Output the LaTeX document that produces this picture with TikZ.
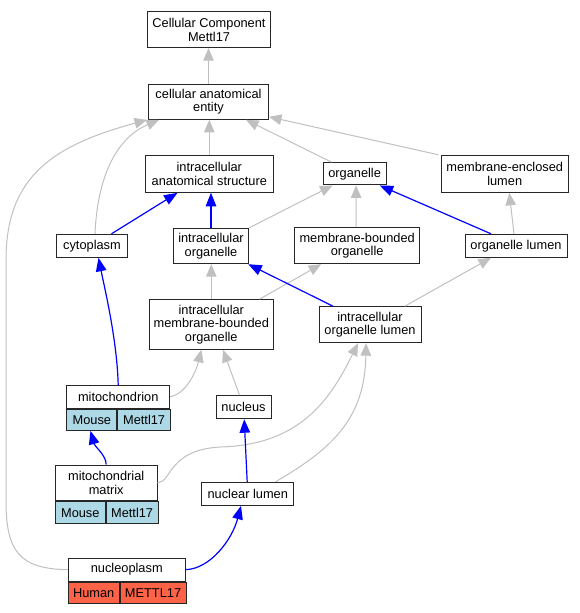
\documentclass[tikz,border=0pt]{standalone}
\usepackage{fontspec}
\setmainfont{Liberation Sans}
\usetikzlibrary{arrows.meta}
\definecolor{isagray}{HTML}{C0C0C0}
\definecolor{partblue}{HTML}{0000FF}
\definecolor{mousecol}{HTML}{ADD8E6}
\definecolor{humancol}{HTML}{FF6347}
\tikzset{
  box/.style={draw=black!85, line width=1pt, fill=white, rectangle, inner sep=0pt, align=center,
    font=\fontsize{12.8}{13.6}\selectfont},
  cellbox/.style={box, anchor=north west},
  isa/.style={draw=isagray, line width=1pt, -{Triangle[length=12.5pt,width=10.5pt]}},
  partof/.style={draw=partblue, line width=1.2pt, -{Triangle[length=13.5pt,width=10.5pt]}},
}
\begin{document}
\begin{tikzpicture}[x=1pt,y=-1pt]
\useasboundingbox (0,0) rectangle (580,613);
% nodes
\node[box, minimum width=123pt, minimum height=36pt] (cc) at (209,29.7) {Cellular Component\\Mettl17};
\node[box, minimum width=120pt, minimum height=35.3pt] (cae) at (208.5,101.7) {cellular anatomical\\entity};
\node[box, minimum width=128.6pt, minimum height=36.6pt] (ias) at (209.3,174) {intracellular\\anatomical structure};
\node[box, minimum width=63.2pt, minimum height=22.3pt] (org) at (354.6,173.8) {organelle};
\node[box, minimum width=127.4pt, minimum height=37pt] (mel) at (504.7,173.8) {membrane-enclosed\\lumen};
\node[box, minimum width=71pt, minimum height=23pt] (cyto) at (92,245.8) {cytoplasm};
\node[box, minimum width=75.5pt, minimum height=35.4pt] (io) at (211,246) {intracellular\\organelle};
\node[box, minimum width=125pt, minimum height=36pt] (mbo) at (357.2,245.7) {membrane-bounded\\organelle};
\node[box, minimum width=102pt, minimum height=23pt] (ol) at (516,245.8) {organelle lumen};
\node[box, minimum width=124.6pt, minimum height=49.6pt] (imbo) at (211.3,324.5) {intracellular\\membrane-bounded\\organelle};
\node[box, minimum width=102pt, minimum height=36pt] (iol) at (370,324.7) {intracellular\\organelle lumen};
% mitochondrion table
\node[box, minimum width=102.5pt, minimum height=23pt] (mito) at (118.2,396.8) {mitochondrion};
\node[cellbox, fill=mousecol, minimum width=49.8pt, minimum height=21pt] (mitoA) at (mito.south west) {Mouse};
\node[cellbox, fill=mousecol, minimum width=52.7pt, minimum height=21pt] (mitoB) at (mitoA.north east) {Mettl17};
\node[box, minimum width=55pt, minimum height=23pt] (nuc) at (243.5,407.2) {nucleus};
% mitochondrial matrix table
\node[box, minimum width=101.6pt, minimum height=35.7pt] (mm) at (106.2,482.85) {mitochondrial\\matrix};
\node[cellbox, fill=mousecol, minimum width=49.8pt, minimum height=22pt] (mmA) at (mm.south west) {Mouse};
\node[cellbox, fill=mousecol, minimum width=51.8pt, minimum height=22pt] (mmB) at (mmA.north east) {Mettl17};
\node[box, minimum width=91.7pt, minimum height=23pt] (nl) at (247.8,493.8) {nuclear lumen};
% nucleoplasm table
\node[box, minimum width=116.7pt, minimum height=22.7pt] (np) at (126.75,569.65) {nucleoplasm};
\node[cellbox, fill=humancol, minimum width=50.6pt, minimum height=21.7pt] (npA) at (np.south west) {Human};
\node[cellbox, fill=humancol, minimum width=66.1pt, minimum height=21.7pt] (npB) at (npA.north east) {METTL17};

% is_a edges (gray)
\draw[isa] (cae.north) -- (cae.north |- cc.south);
\draw[isa] (ias.north) -- (ias.north |- cae.south);
\draw[isa] ([xshift=9pt]org.north west) -- ([xshift=-23pt]cae.south east);
\draw[isa] ([xshift=-2pt]mel.north west) -- ([yshift=3pt]cae.south east);
\draw[isa] ([xshift=3pt]cyto.north) .. controls (97,185) and (112,140) .. ([xshift=11pt]cae.south west);
\draw[isa] (np.west) .. controls (18,569) and (6,550) .. (6,500) -- (6,260) .. controls (6,175) and (55,145) .. ([xshift=-1pt]cae.south west);
\draw[isa] (io.north east) -- ([xshift=10pt]org.south west);
\draw[isa] ([xshift=-1pt]mbo.north) -- ([xshift=1.5pt]org.south);
\draw[isa] ([xshift=-2pt]ol.north) -- ([xshift=4.6pt]mel.south);
\draw[isa] (imbo.north) -- (imbo.north |- io.south);
\draw[isa] ([xshift=-14.6pt]imbo.north east) -- ([xshift=-36pt]mbo.south);
\draw[isa] ([xshift=-16.7pt]iol.north east) -- ([xshift=-25pt]ol.south);
\draw[isa] (mito.east) .. controls (186,394) and (196,372) .. ([xshift=-10pt]imbo.south);
\draw[isa] ([xshift=-4pt]nuc.north) -- ([xshift=11.7pt]imbo.south);
\draw[isa] (mm.east) .. controls (172,482) and (168,450) .. (220,447) .. controls (300,445) and (330,400) .. ([xshift=-12pt]iol.south);
\draw[isa] ([xshift=-18.7pt]nl.north east) .. controls (330,450) and (365,420) .. ([xshift=-4pt]iol.south);

% part_of edges (blue)
\draw[partof] ([xshift=19.5pt]cyto.north) -- ([xshift=33pt]ias.south west);
\draw[partof] (io.north) -- (io.north |- ias.south);
\draw[partof] ([xshift=-25pt]ol.north) -- ([xshift=-7pt]org.south east);
\draw[partof] ([xshift=14.5pt]iol.north west) -- ([xshift=-1pt]io.south east);
\draw[partof] (mito.north) .. controls (117,340) and (105,290) .. ([xshift=6.5pt]cyto.south);
\draw[partof] (mm.north) .. controls (106,455) and (95,447) .. ([xshift=24pt]mitoA.south west);
\draw[partof] ([xshift=-0.6pt]nl.north) -- ([xshift=0.7pt]nuc.south);
\draw[partof] (np.east) .. controls (210,569) and (232,540) .. ([xshift=-6.8pt]nl.south);
\end{tikzpicture}
\end{document}
